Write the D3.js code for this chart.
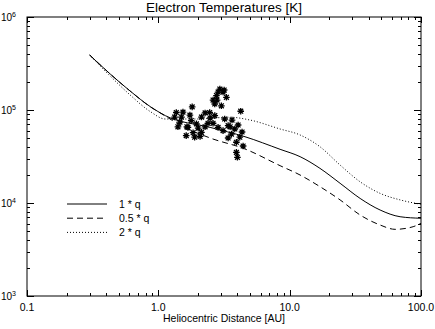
<!DOCTYPE html>
<html>
<head>
<meta charset="utf-8">
<script src="https://cdn.jsdelivr.net/npm/d3@7"></script>
<style>
  body { margin: 0; background: #fff; }
  svg { display: block; font-family: "Liberation Sans", Arial, sans-serif; }
</style>
</head>
<body>
<svg id="chart"></svg>
<script>

// model curves, heliocentric distance in AU and electron temperature in K
var rSolid = [0.3, 0.43, 0.61, 0.87, 1.13, 2.48, 4.57, 8.45, 12.0, 17.0, 24.2, 34.4, 48.8, 69.3, 100]
var tSolid = [3.9e5, 2.44e5, 1.6e5, 1.085e5, 8.7e4, 6.5e4, 5.16e4, 3.78e4, 3.15e4, 2.36e4, 1.63e4, 1.12e4, 8.41e3, 7.12e3, 6.85e3]

var rDashed = [0.3, 0.43, 0.61, 0.87, 1.13, 1.46, 2.48, 4.57, 8.45, 12.0, 17.0, 24.2, 34.4, 48.8, 63.5, 87.1, 100]
var tDashed = [3.9e5, 2.44e5, 1.6e5, 1.08e5, 8.62e4, 6.9e4, 5.0e4, 3.81e4, 2.52e4, 2.0e4, 1.5e4, 1.08e4, 7.43e3, 5.8e3, 5.21e3, 5.56e3, 6.05e3]

var rDotted = [0.3, 0.43, 0.61, 0.87, 1.13, 1.9, 3.52, 4.99, 8.45, 12.0, 17.0, 24.2, 34.4, 48.8, 69.3, 100]
var tDotted = [3.9e5, 2.32e5, 1.45e5, 9.6e4, 8.0e4, 8.0e4, 8.36e4, 7.8e4, 6.25e4, 5.39e4, 4.03e4, 2.56e4, 1.69e4, 1.27e4, 1.08e4, 9.7e3]

// observed temperatures
var obsR = [2.94, 2.77, 3.30, 3.02, 1.81, 4.24, 1.37, 2.46, 1.50, 2.13, 2.69, 3.20, 1.46, 1.95, 2.39, 1.68, 3.40, 3.82, 1.63, 1.89,
            2.13, 3.11, 3.60, 4.17, 3.93, 4.42, 3.93, 4.00, 2.85, 2.69, 1.33, 1.78, 2.27, 2.61, 2.08, 1.65, 3.52, 1.84, 3.11, 2.61,
            2.85, 3.17, 2.80, 2.27, 1.54, 1.74, 2.01, 3.64, 4.05, 4.34, 3.40, 2.48, 1.41]
var obsT = [1.68e5, 1.43e5, 1.37e5, 1.11e5, 1.08e5, 9.7e4, 9.4e4, 9.4e4, 8.4e4, 8.4e4, 8.7e4, 8.0e4, 7.4e4, 7.1e4, 7.2e4, 6.5e4, 6.8e4, 6.25e4, 5.3e4, 5.1e4,
            5.75e4, 6.0e4, 5.5e4, 5.1e4, 4.5e4, 4.1e4, 3.5e4, 3.1e4, 6.5e4, 1.16e5, 8.4e4, 7.7e4, 6.6e4, 7.2e4, 5.2e4, 6.6e4, 6.6e4, 5.7e4, 1.56e5, 1.28e5,
            1.56e5, 1.64e5, 1.28e5, 9.3e4, 9.5e4, 8.8e4, 6.4e4, 7.8e4, 6.9e4, 5.8e4, 5.0e4, 8.2e4, 6.6e4]

var xTicks = [0.1, 1, 10, 100]
var xTickLabels = ["0.1", "1.0", "10.0", "100.0"]
var yTicks = [1e3, 1e4, 1e5, 1e6]
var yTickExp = ["3", "4", "5", "6"]

var legendNames = ["1 * q", "0.5 * q", "2 * q"]

var dimensions = {
    width: 435,
    height: 329,
    margin: { top: 17, right: 14, bottom: 33, left: 27 }
}
dimensions.boundedWidth = dimensions.width - dimensions.margin.left - dimensions.margin.right
dimensions.boundedHeight = dimensions.height - dimensions.margin.top - dimensions.margin.bottom

var svg = d3.select("#chart")
    .attr("width", dimensions.width)
    .attr("height", dimensions.height)

var bounds = svg.append("g")
    .attr("transform", "translate(" + dimensions.margin.left + "," + dimensions.margin.top + ")")

var xScale = d3.scaleLog().domain([0.1, 100]).range([0, dimensions.boundedWidth])
var yScale = d3.scaleLog().domain([1e3, 1e6]).range([dimensions.boundedHeight, 0])

// minor tick values: 2..9 in every decade
var xMinor = []
xTicks.slice(0, -1).forEach(function (d) { for (var k = 2; k < 10; k++) xMinor.push(d * k) })
var yMinor = []
yTicks.slice(0, -1).forEach(function (d) { for (var k = 2; k < 10; k++) yMinor.push(d * k) })

var W = dimensions.boundedWidth, H = dimensions.boundedHeight

// ticks pointing inward on all four sides
var ticks = bounds.append("g").attr("stroke", "#000").attr("stroke-width", 1)
function tickLines(vals, len, horizontal) {
    vals.forEach(function (v) {
        if (horizontal) {
            var x = Math.round(xScale(v)) + 0.5
            ticks.append("line").attr("x1", x).attr("x2", x).attr("y1", H).attr("y2", H - len)
            ticks.append("line").attr("x1", x).attr("x2", x).attr("y1", 0).attr("y2", len)
        } else {
            var y = Math.round(yScale(v)) + 0.5
            ticks.append("line").attr("y1", y).attr("y2", y).attr("x1", 0).attr("x2", len)
            ticks.append("line").attr("y1", y).attr("y2", y).attr("x1", W).attr("x2", W - len)
        }
    })
}
tickLines(xMinor, 3, true)
tickLines(xTicks, 6, true)
tickLines(yMinor, 3, false)
tickLines(yTicks, 7, false)

bounds.append("rect")
    .attr("x", 0).attr("y", 0)
    .attr("width", W).attr("height", H)
    .attr("fill", "none").attr("stroke", "#000").attr("stroke-width", 1)

// x tick labels
bounds.selectAll(".xlab")
    .data(xTicks)
    .enter()
    .append("text")
    .attr("x", function (d) { return xScale(d) })
    .attr("y", H + 15)
    .attr("text-anchor", "middle")
    .attr("font-size", 10.5)
    .text(function (d, i) { return xTickLabels[i] })

// y tick labels as 10 with superscript exponent
var ylab = bounds.selectAll(".ylab")
    .data(yTicks)
    .enter()
    .append("text")
    .attr("x", -11)
    .attr("y", function (d) { return yScale(d) + 4 })
    .attr("text-anchor", "end")
    .attr("font-size", 10)
ylab.append("tspan").text("10")
ylab.append("tspan").attr("dy", -4).attr("font-size", 7).text(function (d, i) { return yTickExp[i] })

svg.append("text")
    .attr("x", 224)
    .attr("y", 12)
    .attr("text-anchor", "middle")
    .attr("font-size", 13.5)
    .text("Electron Temperatures [K]")

svg.append("text")
    .attr("x", 224)
    .attr("y", 322)
    .attr("text-anchor", "middle")
    .attr("font-size", 10.5)
    .text("Heliocentric Distance [AU]")

var line = d3.line()
    .x(function (d) { return xScale(d[0]) })
    .y(function (d) { return yScale(d[1]) })
    .curve(d3.curveMonotoneX)

var series = [
    { r: rSolid, t: tSolid, dash: null },
    { r: rDashed, t: tDashed, dash: "6,4" },
    { r: rDotted, t: tDotted, dash: "1,2" }
]

series.forEach(function (s) {
    bounds.append("path")
        .datum(s.r.map(function (r, i) { return [r, s.t[i]] }))
        .attr("d", line)
        .attr("fill", "none")
        .attr("stroke", "#000")
        .attr("stroke-width", 1)
        .attr("stroke-dasharray", s.dash)
})

// asterisk markers
var ast = "M-3.3,0L3.3,0M0,-3.3L0,3.3M-2.4,-2.4L2.4,2.4M-2.4,2.4L2.4,-2.4"
bounds.selectAll(".obs")
    .data(obsR)
    .enter()
    .append("path")
    .attr("transform", function (d, i) { return "translate(" + xScale(d) + "," + yScale(obsT[i]) + ")" })
    .attr("d", ast)
    .attr("fill", "none")
    .attr("stroke", "#000")
    .attr("stroke-width", 1.3)

// legend
var legend = svg.append("g")
legendNames.forEach(function (name, i) {
    var y = 204 + i * 14.2
    legend.append("line")
        .attr("x1", 67).attr("x2", 107)
        .attr("y1", y).attr("y2", y)
        .attr("stroke", "#000")
        .attr("stroke-dasharray", series[i].dash)
    legend.append("text")
        .attr("x", 119)
        .attr("y", y + 3.5)
        .attr("font-size", 10.5)
        .text(name)
})

</script>
</body>
</html>
